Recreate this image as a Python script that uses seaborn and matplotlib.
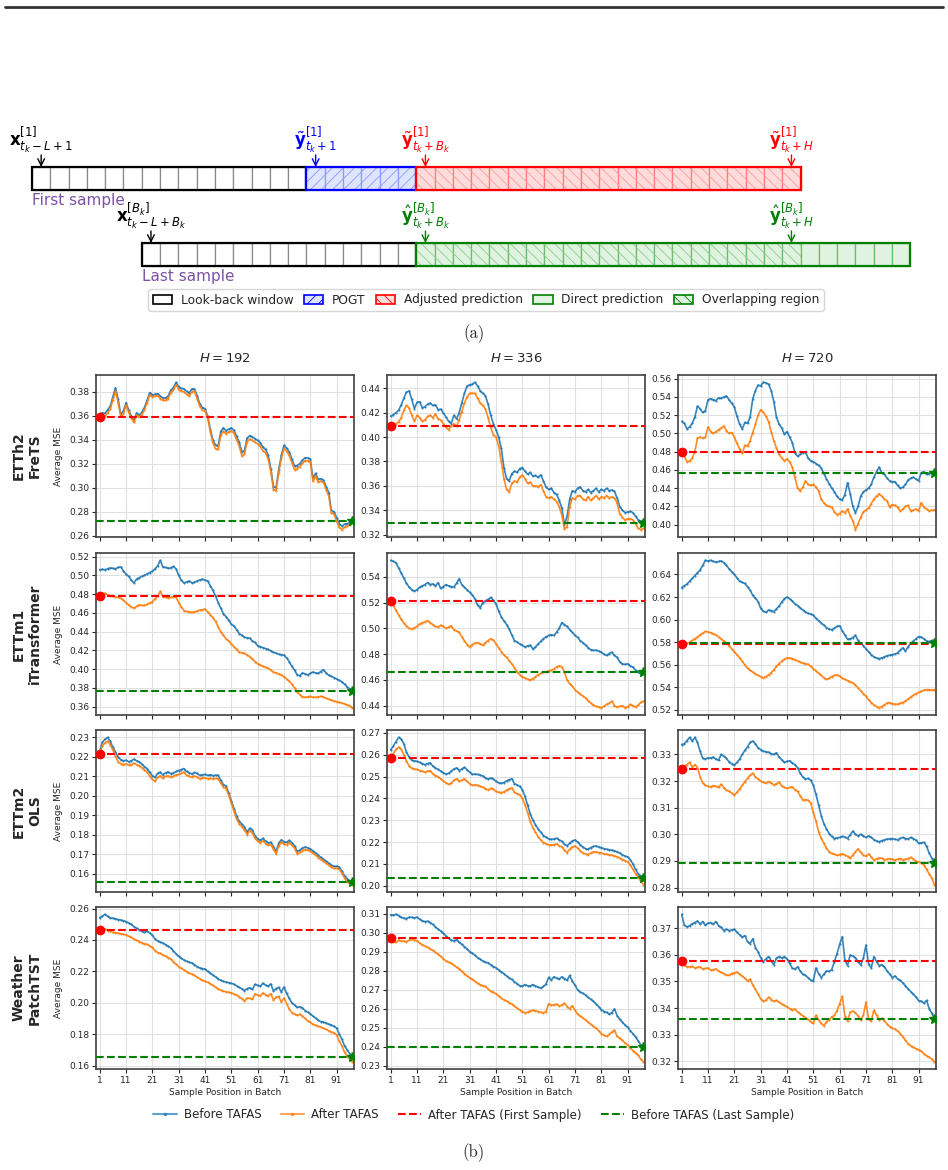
import numpy as np
import matplotlib
matplotlib.use("Agg")
import matplotlib.pyplot as plt
from matplotlib.patches import Rectangle, Patch
from matplotlib.lines import Line2D
from matplotlib.ticker import MultipleLocator, FormatStrFormatter
import seaborn as sns

# --- (b) average MSE per sample position, values are MSE x 10^4 ---
etth2_192_before = [
    3615, 3625, 3620, 3650, 3680, 3760, 3835, 3740, 3610, 3640,
    3710, 3650, 3600, 3560, 3625, 3605, 3630, 3670, 3730, 3795,
    3775, 3780, 3785, 3765, 3750, 3750, 3765, 3815, 3835, 3880,
    3845, 3830, 3825, 3805, 3790, 3825, 3825, 3770, 3700, 3670,
    3660, 3600, 3490, 3400, 3355, 3350, 3470, 3500, 3475, 3490,
    3500, 3480, 3430, 3380, 3300, 3310, 3415, 3435, 3425, 3410,
    3395, 3375, 3340, 3320, 3270, 3160, 3010, 3000, 3150, 3270,
    3355, 3330, 3300, 3240, 3180, 3185, 3200, 3230, 3250, 3250,
    3240, 3080, 3120, 3070, 3075, 3065, 3010, 2960, 2810, 2800,
    2750, 2700, 2680, 2695, 2700, 2710, 2722]
etth2_192_after = [
    3593, 3600, 3595, 3625, 3655, 3735, 3805, 3710, 3595, 3615,
    3690, 3630, 3580, 3545, 3605, 3590, 3610, 3650, 3710, 3775,
    3760, 3765, 3770, 3745, 3730, 3730, 3745, 3795, 3815, 3860,
    3820, 3810, 3800, 3780, 3765, 3800, 3805, 3745, 3680, 3650,
    3640, 3585, 3470, 3375, 3325, 3320, 3440, 3470, 3450, 3465,
    3475, 3455, 3400, 3350, 3265, 3280, 3385, 3405, 3395, 3380,
    3365, 3345, 3310, 3290, 3240, 3135, 2985, 2975, 3125, 3245,
    3330, 3305, 3270, 3210, 3150, 3160, 3175, 3205, 3225, 3225,
    3215, 3055, 3095, 3045, 3055, 3045, 2985, 2930, 2790, 2780,
    2720, 2670, 2650, 2670, 2680, 2690, 2710]
etth2_336_before = [
    4173, 4185, 4200, 4220, 4265, 4320, 4370, 4380, 4310, 4235,
    4285, 4290, 4240, 4250, 4270, 4280, 4260, 4265, 4225, 4230,
    4200, 4165, 4130, 4110, 4180, 4150, 4200, 4280, 4360, 4420,
    4430, 4435, 4450, 4420, 4380, 4360, 4340, 4270, 4180, 4110,
    4060, 4000, 3910, 3750, 3660, 3640, 3700, 3720, 3710, 3740,
    3750, 3720, 3695, 3710, 3680, 3685, 3670, 3690, 3640, 3590,
    3570, 3580, 3545, 3530, 3480, 3420, 3280, 3350, 3490, 3560,
    3550, 3580, 3590, 3560, 3550, 3570, 3545, 3560, 3580, 3550,
    3570, 3560, 3580, 3560, 3565, 3555, 3500, 3430, 3400, 3380,
    3385, 3390, 3380, 3350, 3320, 3310, 3297]
etth2_336_after = [
    4089, 4100, 4110, 4125, 4160, 4220, 4260, 4240, 4180, 4130,
    4180, 4160, 4130, 4140, 4170, 4180, 4160, 4190, 4150, 4140,
    4110, 4080, 4060, 4090, 4110, 4090, 4140, 4210, 4280, 4330,
    4360, 4360, 4360, 4320, 4280, 4260, 4230, 4160, 4080, 4020,
    4000, 3930, 3800, 3660, 3570, 3550, 3620, 3640, 3630, 3670,
    3690, 3660, 3620, 3630, 3600, 3600, 3590, 3610, 3560, 3510,
    3500, 3510, 3490, 3470, 3430, 3360, 3245, 3265, 3430, 3500,
    3490, 3520, 3520, 3490, 3480, 3510, 3480, 3500, 3520, 3490,
    3510, 3500, 3520, 3500, 3510, 3500, 3460, 3370, 3340, 3320,
    3330, 3330, 3320, 3290, 3250, 3240, 3250]
etth2_720_before = [
    5133, 5110, 5050, 5070, 5110, 5180, 5300, 5270, 5230, 5250,
    5370, 5380, 5370, 5360, 5390, 5385, 5400, 5410, 5370, 5330,
    5290, 5190, 5100, 5050, 5120, 5110, 5180, 5380, 5470, 5530,
    5520, 5560, 5555, 5540, 5470, 5350, 5180, 5100, 5060, 4990,
    5020, 4960, 4900, 4790, 4750, 4770, 4790, 4800, 4730, 4700,
    4690, 4670, 4650, 4620, 4560, 4500, 4450, 4400, 4360, 4310,
    4280, 4270, 4330, 4460, 4340, 4200, 4130, 4200, 4310, 4360,
    4380, 4400, 4440, 4520, 4580, 4630, 4570, 4550, 4510, 4480,
    4470, 4470, 4430, 4400, 4410, 4440, 4490, 4510, 4520, 4500,
    4480, 4570, 4580, 4550, 4560, 4570, 4565]
etth2_720_after = [
    4800, 4750, 4690, 4695, 4730, 4800, 4950, 4960, 4950, 4960,
    5070, 5020, 5000, 5020, 5040, 5060, 5080, 5030, 5000, 5010,
    4960, 4890, 4830, 4780, 4870, 4860, 4920, 5010, 5100, 5200,
    5260, 5230, 5190, 5130, 5020, 4920, 4840, 4770, 4730, 4700,
    4720, 4690, 4630, 4520, 4400, 4370, 4410, 4480, 4440, 4430,
    4440, 4410, 4370, 4280, 4240, 4210, 4200, 4190, 4140, 4110,
    4120, 4150, 4130, 4170, 4100, 4040, 3945, 4010, 4080, 4140,
    4160, 4180, 4230, 4280, 4310, 4340, 4310, 4280, 4260, 4190,
    4220, 4210, 4190, 4150, 4170, 4200, 4210, 4150, 4160, 4170,
    4150, 4240, 4190, 4170, 4150, 4160, 4160]
ettm1_192_before = [
    5060, 5065, 5060, 5070, 5080, 5075, 5070, 5085, 5090, 5050,
    5010, 4990, 4950, 4920, 4960, 4975, 4990, 5000, 5015, 5030,
    5045, 5070, 5100, 5160, 5090, 5085, 5075, 5080, 5095, 5070,
    5000, 4950, 4920, 4930, 4940, 4920, 4925, 4940, 4950, 4960,
    4950, 4940, 4890, 4840, 4780, 4710, 4650, 4590, 4560, 4520,
    4480, 4460, 4420, 4380, 4360, 4340, 4335, 4330, 4300, 4285,
    4250, 4240, 4230, 4220, 4210, 4195, 4180, 4170, 4160, 4155,
    4150, 4120, 4080, 4030, 3990, 3940, 3930, 3960, 3950, 3940,
    3955, 3970, 3960, 3955, 3975, 3995, 3960, 3935, 3925, 3910,
    3895, 3880, 3865, 3840, 3810, 3790, 3765]
ettm1_192_after = [
    4785, 4800, 4810, 4790, 4785, 4775, 4770, 4765, 4755, 4735,
    4710, 4685, 4665, 4650, 4670, 4685, 4680, 4680, 4690, 4705,
    4720, 4750, 4775, 4830, 4770, 4765, 4760, 4765, 4770, 4765,
    4710, 4665, 4625, 4615, 4610, 4605, 4610, 4620, 4630, 4635,
    4640, 4610, 4580, 4550, 4510, 4450, 4400, 4360, 4325, 4300,
    4270, 4240, 4210, 4180, 4175, 4170, 4150, 4135, 4110, 4080,
    4060, 4045, 4030, 4020, 4010, 3990, 3970, 3960, 3950, 3940,
    3920, 3895, 3870, 3840, 3800, 3760, 3730, 3705, 3700, 3705,
    3710, 3700, 3700, 3705, 3710, 3705, 3690, 3680, 3670, 3660,
    3655, 3645, 3640, 3630, 3620, 3610, 3590]
ettm1_336_before = [
    5528, 5520, 5510, 5470, 5430, 5390, 5350, 5320, 5300, 5290,
    5300, 5320, 5330, 5340, 5355, 5340, 5345, 5330, 5355, 5310,
    5325, 5340, 5330, 5325, 5320, 5350, 5385, 5340, 5320, 5300,
    5280, 5260, 5230, 5180, 5160, 5200, 5215, 5225, 5240, 5220,
    5190, 5135, 5090, 5060, 5030, 4995, 4950, 4905, 4895, 4880,
    4870, 4855, 4865, 4870, 4840, 4855, 4880, 4900, 4920, 4935,
    4945, 4950, 4945, 4970, 5000, 5045, 5030, 5015, 4990, 4970,
    4945, 4930, 4905, 4890, 4870, 4850, 4835, 4830, 4830, 4825,
    4815, 4800, 4790, 4805, 4815, 4790, 4775, 4740, 4725, 4720,
    4725, 4710, 4700, 4675, 4660, 4645, 4665]
ettm1_336_after = [
    5210, 5180, 5140, 5105, 5070, 5040, 5020, 5000, 4995, 5005,
    5015, 5035, 5045, 5050, 5060, 5045, 5030, 5015, 5010, 5025,
    5015, 5000, 5010, 5020, 4990, 4980, 4970, 4935, 4905, 4875,
    4855, 4875, 4885, 4890, 4880, 4870, 4890, 4905, 4920, 4910,
    4880, 4850, 4820, 4795, 4775, 4750, 4725, 4695, 4665, 4640,
    4625, 4615, 4605, 4600, 4610, 4625, 4640, 4650, 4660, 4665,
    4670, 4675, 4685, 4700, 4710, 4700, 4660, 4600, 4570, 4550,
    4525, 4505, 4490, 4475, 4460, 4440, 4420, 4405, 4395, 4390,
    4385, 4395, 4410, 4420, 4435, 4400, 4390, 4395, 4400, 4385,
    4390, 4410, 4400, 4390, 4405, 4425, 4435]
ettm1_720_before = [
    6283, 6300, 6315, 6340, 6365, 6390, 6415, 6440, 6480, 6525,
    6520, 6525, 6515, 6510, 6515, 6520, 6505, 6480, 6450, 6425,
    6400, 6370, 6340, 6330, 6320, 6290, 6260, 6215, 6190, 6160,
    6100, 6075, 6065, 6085, 6080, 6070, 6095, 6120, 6155, 6185,
    6200, 6185, 6165, 6140, 6125, 6105, 6085, 6070, 6055, 6050,
    6040, 6010, 5990, 5970, 5950, 5930, 5915, 5910, 5925, 5940,
    5945, 5900, 5865, 5825, 5830, 5840, 5860, 5815, 5790, 5770,
    5740, 5715, 5690, 5670, 5660, 5655, 5660, 5670, 5680, 5685,
    5690, 5695, 5705, 5730, 5750, 5720, 5760, 5790, 5810, 5830,
    5850, 5845, 5830, 5810, 5805, 5815, 5795]
ettm1_720_after = [
    5785, 5785, 5790, 5800, 5815, 5830, 5845, 5865, 5880, 5895,
    5890, 5885, 5875, 5865, 5845, 5830, 5810, 5795, 5770, 5740,
    5715, 5690, 5660, 5630, 5600, 5570, 5550, 5535, 5520, 5505,
    5495, 5485, 5495, 5510, 5530, 5555, 5585, 5610, 5630, 5650,
    5660, 5660, 5655, 5645, 5635, 5625, 5615, 5610, 5605, 5585,
    5565, 5545, 5525, 5505, 5485, 5470, 5480, 5495, 5505, 5510,
    5500, 5480, 5470, 5460, 5450, 5440, 5420, 5395, 5370, 5345,
    5320, 5290, 5265, 5245, 5230, 5220, 5230, 5245, 5260, 5265,
    5255, 5250, 5250, 5260, 5265, 5280, 5295, 5315, 5330, 5345,
    5355, 5365, 5375, 5380, 5380, 5375, 5380]
ettm2_192_before = [
    2228, 2275, 2290, 2300, 2280, 2250, 2225, 2200, 2185, 2180,
    2183, 2175, 2180, 2188, 2180, 2175, 2162, 2150, 2140, 2120,
    2103, 2095, 2115, 2122, 2108, 2118, 2123, 2113, 2118, 2125,
    2130, 2135, 2140, 2125, 2118, 2112, 2120, 2115, 2105, 2108,
    2110, 2105, 2108, 2104, 2106, 2105, 2080, 2058, 2050, 2015,
    1975, 1935, 1895, 1870, 1855, 1840, 1815, 1835, 1825, 1795,
    1780, 1772, 1782, 1768, 1760, 1762, 1740, 1715, 1758, 1775,
    1765, 1762, 1772, 1760, 1745, 1715, 1722, 1732, 1738, 1734,
    1728, 1718, 1708, 1695, 1685, 1675, 1665, 1655, 1645, 1638,
    1640, 1635, 1615, 1590, 1575, 1565, 1558]
ettm2_192_after = [
    2216, 2255, 2272, 2280, 2262, 2235, 2205, 2175, 2165, 2160,
    2165, 2157, 2160, 2168, 2160, 2155, 2145, 2133, 2122, 2100,
    2085, 2075, 2095, 2103, 2090, 2100, 2103, 2095, 2100, 2107,
    2110, 2115, 2122, 2105, 2100, 2095, 2102, 2097, 2088, 2092,
    2093, 2088, 2090, 2088, 2090, 2088, 2065, 2045, 2038, 2003,
    1962, 1922, 1880, 1857, 1842, 1826, 1802, 1822, 1812, 1782,
    1768, 1760, 1770, 1755, 1748, 1750, 1728, 1703, 1745, 1762,
    1752, 1750, 1760, 1748, 1732, 1703, 1710, 1720, 1725, 1722,
    1716, 1706, 1696, 1684, 1674, 1664, 1654, 1645, 1634, 1628,
    1630, 1625, 1603, 1578, 1560, 1550, 1545]
ettm2_336_before = [
    2622, 2640, 2660, 2680, 2672, 2650, 2612, 2590, 2575, 2572,
    2570, 2565, 2560, 2555, 2560, 2563, 2548, 2540, 2533, 2525,
    2518, 2512, 2515, 2525, 2535, 2540, 2528, 2535, 2543, 2532,
    2520, 2510, 2512, 2510, 2507, 2503, 2495, 2488, 2494, 2490,
    2478, 2472, 2470, 2473, 2480, 2486, 2490, 2468, 2462, 2456,
    2440, 2410, 2370, 2330, 2300, 2280, 2260, 2245, 2230, 2222,
    2215, 2212, 2214, 2218, 2210, 2204, 2190, 2183, 2195, 2205,
    2210, 2200, 2188, 2176, 2170, 2167, 2175, 2180, 2182, 2178,
    2175, 2170, 2167, 2165, 2163, 2160, 2156, 2150, 2142, 2136,
    2132, 2120, 2100, 2075, 2055, 2045, 2036]
ettm2_336_after = [
    2585, 2605, 2625, 2635, 2625, 2600, 2570, 2550, 2538, 2535,
    2533, 2528, 2525, 2520, 2525, 2527, 2513, 2505, 2500, 2490,
    2480, 2472, 2465, 2470, 2483, 2490, 2478, 2484, 2490, 2478,
    2468, 2460, 2463, 2460, 2455, 2452, 2445, 2440, 2446, 2443,
    2432, 2428, 2427, 2430, 2438, 2445, 2448, 2428, 2422, 2418,
    2400, 2372, 2335, 2295, 2265, 2245, 2225, 2210, 2198, 2192,
    2188, 2186, 2188, 2192, 2183, 2178, 2163, 2152, 2168, 2178,
    2182, 2172, 2160, 2150, 2145, 2143, 2150, 2155, 2156, 2152,
    2150, 2146, 2144, 2142, 2140, 2137, 2133, 2127, 2120, 2115,
    2110, 2095, 2075, 2055, 2040, 2020, 2005]
ettm2_720_before = [
    3337, 3340, 3352, 3364, 3350, 3364, 3345, 3312, 3285, 3283,
    3287, 3286, 3290, 3282, 3278, 3300, 3293, 3285, 3272, 3265,
    3260, 3270, 3282, 3300, 3315, 3328, 3345, 3350, 3340, 3325,
    3318, 3312, 3310, 3308, 3302, 3300, 3306, 3290, 3280, 3270,
    3274, 3276, 3268, 3262, 3250, 3230, 3215, 3208, 3210, 3203,
    3185, 3150, 3110, 3070, 3040, 3020, 3003, 2992, 2984, 2987,
    2988, 2992, 2990, 2984, 2998, 3012, 3000, 2994, 3000, 2994,
    2988, 2994, 2988, 2980, 2975, 2972, 2976, 2979, 2982, 2983,
    2984, 2982, 2979, 2985, 2988, 2984, 2982, 2988, 2984, 2978,
    2966, 2968, 2970, 2955, 2930, 2910, 2893]
ettm2_720_after = [
    3244, 3255, 3262, 3270, 3252, 3262, 3250, 3215, 3193, 3184,
    3180, 3178, 3183, 3180, 3176, 3188, 3175, 3166, 3162, 3155,
    3147, 3158, 3170, 3184, 3198, 3210, 3222, 3229, 3216, 3208,
    3200, 3195, 3193, 3198, 3194, 3185, 3190, 3196, 3182, 3176,
    3172, 3176, 3178, 3168, 3162, 3145, 3129, 3130, 3128, 3118,
    3082, 3050, 3010, 2985, 2966, 2948, 2935, 2928, 2925, 2921,
    2924, 2927, 2922, 2917, 2910, 2922, 2935, 2945, 2932, 2922,
    2918, 2926, 2915, 2903, 2908, 2911, 2910, 2905, 2906, 2909,
    2906, 2903, 2907, 2909, 2904, 2906, 2909, 2913, 2908, 2898,
    2897, 2893, 2885, 2868, 2852, 2835, 2811]
weather_192_before = [
    2542, 2552, 2563, 2550, 2540, 2538, 2535, 2530, 2527, 2523,
    2517, 2508, 2500, 2485, 2475, 2465, 2455, 2448, 2456, 2445,
    2430, 2408, 2393, 2387, 2380, 2370, 2360, 2350, 2330, 2312,
    2295, 2283, 2273, 2264, 2258, 2254, 2242, 2230, 2222, 2218,
    2214, 2200, 2188, 2176, 2165, 2152, 2143, 2136, 2132, 2128,
    2124, 2118, 2108, 2098, 2090, 2078, 2090, 2095, 2085, 2118,
    2110, 2105, 2124, 2112, 2106, 2120, 2075, 2090, 2098, 2068,
    2100, 2060, 2028, 2000, 1985, 1970, 1974, 1968, 1950, 1940,
    1930, 1915, 1903, 1888, 1880, 1876, 1870, 1864, 1858, 1850,
    1838, 1800, 1768, 1725, 1700, 1675, 1655]
weather_192_after = [
    2465, 2467, 2470, 2460, 2455, 2448, 2446, 2443, 2440, 2436,
    2432, 2424, 2416, 2406, 2397, 2390, 2382, 2376, 2372, 2362,
    2352, 2332, 2320, 2314, 2305, 2297, 2288, 2278, 2262, 2245,
    2230, 2220, 2210, 2198, 2188, 2184, 2175, 2163, 2153, 2143,
    2136, 2130, 2122, 2110, 2098, 2087, 2080, 2074, 2070, 2067,
    2062, 2056, 2048, 2038, 2027, 2012, 2030, 2028, 2022, 2056,
    2048, 2045, 2062, 2050, 2045, 2058, 2018, 2035, 2040, 2005,
    2030, 1995, 1960, 1937, 1927, 1920, 1927, 1915, 1900, 1885,
    1877, 1862, 1856, 1850, 1845, 1838, 1830, 1822, 1815, 1808,
    1796, 1755, 1725, 1685, 1660, 1640, 1625]
weather_336_before = [
    3096, 3093, 3098, 3092, 3082, 3078, 3076, 3083, 3082, 3080,
    3083, 3072, 3064, 3060, 3062, 3055, 3045, 3032, 3020, 3010,
    2998, 2984, 2972, 2962, 2958, 2965, 2950, 2940, 2928, 2915,
    2902, 2893, 2882, 2870, 2862, 2852, 2846, 2843, 2832, 2823,
    2817, 2805, 2795, 2786, 2773, 2763, 2755, 2743, 2733, 2722,
    2720, 2728, 2722, 2720, 2728, 2720, 2714, 2711, 2718, 2730,
    2766, 2752, 2769, 2762, 2757, 2769, 2760, 2750, 2776, 2745,
    2725, 2700, 2689, 2682, 2672, 2660, 2650, 2640, 2627, 2612,
    2596, 2586, 2582, 2572, 2580, 2600, 2565, 2545, 2530, 2515,
    2503, 2485, 2470, 2452, 2432, 2410, 2397]
weather_336_after = [
    2975, 2955, 2950, 2962, 2958, 2956, 2955, 2962, 2967, 2962,
    2958, 2948, 2938, 2932, 2924, 2915, 2908, 2898, 2888, 2876,
    2864, 2853, 2846, 2840, 2830, 2820, 2810, 2798, 2786, 2775,
    2764, 2756, 2745, 2734, 2728, 2722, 2718, 2705, 2692, 2687,
    2680, 2668, 2657, 2648, 2641, 2633, 2625, 2615, 2605, 2595,
    2585, 2580, 2582, 2590, 2592, 2590, 2586, 2582, 2580, 2585,
    2628, 2618, 2622, 2625, 2615, 2620, 2630, 2612, 2600, 2617,
    2592, 2572, 2562, 2553, 2542, 2530, 2518, 2508, 2498, 2485,
    2470, 2460, 2455, 2465, 2478, 2488, 2455, 2445, 2435, 2420,
    2410, 2395, 2380, 2368, 2355, 2335, 2322]
weather_720_before = [
    3753, 3712, 3706, 3710, 3718, 3722, 3728, 3716, 3726, 3712,
    3720, 3722, 3716, 3726, 3710, 3704, 3692, 3697, 3692, 3694,
    3697, 3685, 3676, 3667, 3673, 3650, 3643, 3661, 3628, 3612,
    3590, 3575, 3585, 3594, 3578, 3563, 3588, 3594, 3588, 3594,
    3585, 3568, 3550, 3547, 3555, 3540, 3527, 3523, 3515, 3505,
    3502, 3551, 3530, 3515, 3527, 3540, 3538, 3545, 3575, 3605,
    3640, 3669, 3580, 3560, 3600, 3596, 3590, 3575, 3563, 3588,
    3637, 3565, 3551, 3594, 3575, 3560, 3563, 3555, 3540, 3528,
    3515, 3521, 3510, 3504, 3495, 3484, 3472, 3462, 3452, 3441,
    3428, 3426, 3418, 3429, 3398, 3380, 3359]
weather_720_after = [
    3578, 3563, 3555, 3556, 3557, 3551, 3553, 3555, 3547, 3549,
    3551, 3543, 3545, 3547, 3539, 3534, 3530, 3525, 3523, 3530,
    3533, 3535, 3527, 3520, 3512, 3502, 3509, 3487, 3470, 3453,
    3435, 3425, 3430, 3441, 3432, 3425, 3429, 3422, 3415, 3410,
    3405, 3398, 3394, 3396, 3386, 3379, 3371, 3364, 3357, 3348,
    3342, 3373, 3355, 3342, 3333, 3349, 3355, 3367, 3372, 3390,
    3416, 3444, 3370, 3351, 3385, 3388, 3382, 3370, 3355, 3373,
    3422, 3358, 3351, 3392, 3373, 3356, 3361, 3353, 3340, 3330,
    3324, 3321, 3313, 3304, 3292, 3278, 3266, 3258, 3252, 3247,
    3243, 3238, 3228, 3220, 3215, 3208, 3198]

row_labels = ["ETTh2\nFreTS", "ETTm1\niTransformer", "ETTm2\nOLS", "Weather\nPatchTST"]
horizons = [192, 336, 720]
y_steps = [[0.02, 0.02, 0.02], [0.02, 0.02, 0.02], [0.01, 0.01, 0.01], [0.02, 0.01, 0.01]]
x_tick_pos = list(range(1, 92, 10))

# --- (a) window diagram: cell counts ---
lookback_cells = 15
pogt_cells = 6
adjusted_cells = 21
direct_cells = 27
last_offset = 6

# ---------------------------------------------------------------
sns.set_theme(style="whitegrid")
plt.rcParams["font.family"] = ["DejaVu Sans"]
plt.rcParams["hatch.linewidth"] = 0.6

BLUE, ORANGE = "#1f77b4", "#ff7f0e"
PURPLE = "#7b52a6"
W, H = 948, 1170
fig = plt.figure(figsize=(W / 100, H / 100), dpi=100)


def px_box(left, top, width, height):
    return [left / W, 1 - (top + height) / H, width / W, height / H]


# thin page rule at the top
fig.add_artist(Line2D([5 / W, 943 / W], [1 - 7 / H, 1 - 7 / H], color="0.2", lw=2))

# ---------------- (a) diagram ----------------
CELL = 18.3
ROW_H = 23
axd = fig.add_axes([0, 1 - 330 / H, 1, 220 / H])
axd.set_xlim(-32 / CELL, (W - 32) / CELL)
axd.set_ylim(330, 110)
axd.axis("off")


def draw_group(start, n, top, fill, edge, sep, hatch=None, hatch_color=None, hatch_n=None):
    for i in range(n):
        axd.add_patch(Rectangle((start + i, top), 1, ROW_H, facecolor=fill,
                                edgecolor=sep, lw=0.9))
    if hatch:
        axd.add_patch(Rectangle((start, top), hatch_n or n, ROW_H, facecolor="none",
                                edgecolor=hatch_color, lw=0, hatch=hatch))
    axd.add_patch(Rectangle((start, top), n, ROW_H, facecolor="none", edgecolor=edge, lw=1.6))


LB_FILL, BL_FILL, RD_FILL, GR_FILL = "white", "#dfe5ff", "#ffdcdc", "#e0f2e0"
top1, top2 = 167, 243
draw_group(0, lookback_cells, top1, LB_FILL, "black", "#8a8a8a")
draw_group(lookback_cells, pogt_cells, top1, BL_FILL, "blue", "#8f9cff", "///", "#8c98ff")
s_adj = lookback_cells + pogt_cells
draw_group(s_adj, adjusted_cells, top1, RD_FILL, "red", "#ff7a7a", "\\\\\\", "#ff9a9a")
draw_group(last_offset, lookback_cells, top2, LB_FILL, "black", "#8a8a8a")
s_dir = last_offset + lookback_cells
draw_group(s_dir, direct_cells, top2, GR_FILL, "green", "#6cbb6c", "\\\\\\", "#8ccc8c",
           hatch_n=adjusted_cells)

labels_a = [
    (0.5, top1, "black", r"$\mathbf{x}_{t_k-L+1}^{[1]}$"),
    (lookback_cells + 0.5, top1, "blue", r"$\tilde{\mathbf{y}}_{t_k+1}^{[1]}$"),
    (s_adj + 0.5, top1, "red", r"$\tilde{\mathbf{y}}_{t_k+B_k}^{[1]}$"),
    (s_adj + adjusted_cells - 0.5, top1, "red", r"$\tilde{\mathbf{y}}_{t_k+H}^{[1]}$"),
    (last_offset + 0.5, top2, "black", r"$\mathbf{x}_{t_k-L+B_k}^{[B_k]}$"),
    (s_dir + 0.5, top2, "green", r"$\hat{\mathbf{y}}_{t_k+B_k}^{[B_k]}$"),
    (s_adj + adjusted_cells - 0.5, top2, "green", r"$\hat{\mathbf{y}}_{t_k+H}^{[B_k]}$"),
]
for xc, top, col, txt in labels_a:
    axd.annotate("", xy=(xc, top), xytext=(xc, top - 12),
                 arrowprops=dict(arrowstyle="->", color=col, lw=1.0, shrinkA=0, shrinkB=0))
    axd.text(xc, top - 12.5, txt, color=col, fontsize=12, ha="center", va="bottom")

axd.text(0, top1 + ROW_H + 3, "First sample", color=PURPLE, fontsize=11, ha="left", va="top")
axd.text(last_offset, top2 + ROW_H + 3, "Last sample", color=PURPLE, fontsize=11,
         ha="left", va="top")

diag_handles = [
    Patch(facecolor=LB_FILL, edgecolor="black", lw=1.2),
    Patch(facecolor=BL_FILL, edgecolor="blue", hatch="///", lw=1.2),
    Patch(facecolor=RD_FILL, edgecolor="red", hatch="\\\\\\", lw=1.2),
    Patch(facecolor=GR_FILL, edgecolor="green", lw=1.2),
    Patch(facecolor=GR_FILL, edgecolor="green", hatch="\\\\\\", lw=1.2),
]
diag_labels = ["Look-back window", "POGT", "Adjusted prediction", "Direct prediction",
               "Overlapping region"]
fig.legend(diag_handles, diag_labels, loc="center", bbox_to_anchor=(486 / W, 1 - 300 / H),
           ncol=5, fontsize=8.8, handlelength=1.6, handleheight=0.8, handletextpad=0.7,
           columnspacing=0.85, frameon=True, fancybox=True, edgecolor="0.8", borderpad=0.35)

fig.text(474 / W, 1 - 334 / H, "(a)", ha="center", va="center", fontsize=12, family="cmr10")

# ---------------- (b) grid of MSE curves ----------------
panels = [
    [(etth2_192_before, etth2_192_after), (etth2_336_before, etth2_336_after),
     (etth2_720_before, etth2_720_after)],
    [(ettm1_192_before, ettm1_192_after), (ettm1_336_before, ettm1_336_after),
     (ettm1_720_before, ettm1_720_after)],
    [(ettm2_192_before, ettm2_192_after), (ettm2_336_before, ettm2_336_after),
     (ettm2_720_before, ettm2_720_after)],
    [(weather_192_before, weather_192_after), (weather_336_before, weather_336_after),
     (weather_720_before, weather_720_after)],
]

col_left = [96, 387, 678]
row_top = [375, 553, 730, 907]
AX_W, AX_H = 258, 162

for r in range(4):
    for c in range(3):
        ax = fig.add_axes(px_box(col_left[c], row_top[r], AX_W, AX_H))
        before = np.array(panels[r][c][0]) / 1e4
        after = np.array(panels[r][c][1]) / 1e4
        xb = np.arange(1, len(before) + 1)
        xa = np.arange(1, len(after) + 1)

        sns.lineplot(x=xb, y=before, ax=ax, color=BLUE, linewidth=1.2, marker=".",
                     markersize=3, markeredgewidth=0, alpha=0.9, estimator=None, errorbar=None)
        sns.lineplot(x=xa, y=after, ax=ax, color=ORANGE, linewidth=1.2, marker=".",
                     markersize=3, markeredgewidth=0, alpha=0.9, estimator=None, errorbar=None)
        ax.axhline(after[0], color="red", ls="--", lw=1.5, zorder=3)
        ax.axhline(before[-1], color="green", ls="--", lw=1.5, zorder=3)
        ax.plot(xa[0], after[0], "o", color="red", ms=6, zorder=4)
        ax.plot(xb[-1], before[-1], "*", color="green", ms=7, zorder=4)

        ax.set_xlim(-0.4, 97.6)
        ax.set_xticks(x_tick_pos)
        ax.set_xticklabels([str(v) for v in x_tick_pos])
        ax.yaxis.set_major_locator(MultipleLocator(y_steps[r][c]))
        ax.yaxis.set_major_formatter(FormatStrFormatter("%.2f"))
        ax.tick_params(labelsize=6.5, length=3, width=0.8, colors="0.15", pad=2,
                       bottom=True, left=True)
        ax.grid(True, color="0.88", lw=0.8)
        for sp in ax.spines.values():
            sp.set_color("0.25")
            sp.set_linewidth(1.2)
        ax.set_xlabel("")
        ax.set_ylabel("")
        if r < 3:
            ax.tick_params(labelbottom=False)
        else:
            ax.set_xlabel("Sample Position in Batch", fontsize=6.5, labelpad=2, color="0.15")
        if c == 0:
            ax.set_ylabel("Average MSE", fontsize=6.5, labelpad=4, color="0.15")
        if r == 0:
            ax.set_title(f"$H = {horizons[c]}$", fontsize=9.5, pad=9)

    fig.text(27 / W, 1 - (row_top[r] + AX_H / 2) / H, row_labels[r], rotation=90,
             fontsize=10, fontweight="bold", ha="center", va="center", multialignment="center")

legend_handles = [
    Line2D([], [], color=BLUE, lw=1.5, marker=".", ms=3, alpha=0.7),
    Line2D([], [], color=ORANGE, lw=1.5, marker=".", ms=3, alpha=0.7),
    Line2D([], [], color="red", lw=1.5, ls="--"),
    Line2D([], [], color="green", lw=1.5, ls="--"),
]
legend_labels = ["Before TAFAS", "After TAFAS", "After TAFAS (First Sample)",
                 "Before TAFAS (Last Sample)"]
fig.legend(legend_handles, legend_labels, loc="center", bbox_to_anchor=(474 / W, 1 - 1115 / H),
           ncol=4, frameon=False, fontsize=8.5, handlelength=2.0, handletextpad=0.6,
           columnspacing=1.6)

fig.text(474 / W, 1 - 1153 / H, "(b)", ha="center", va="center", fontsize=12, family="cmr10")

fig.savefig("out.png", dpi=100)
